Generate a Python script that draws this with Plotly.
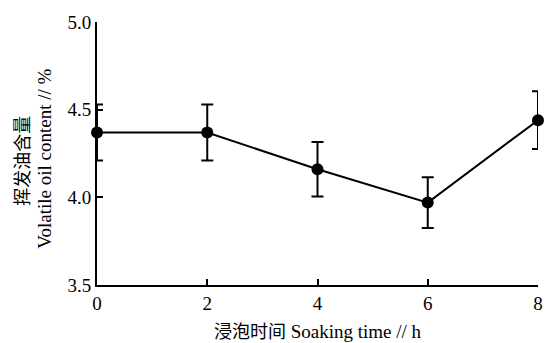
import plotly.graph_objects as go

soak_time = [0, 2, 4, 6, 8]
oil_content = [4.37, 4.37, 4.16, 3.97, 4.44]
oil_sd = [0.16, 0.16, 0.155, 0.145, 0.165]
x_ticks = [0, 2, 4, 6, 8]
y_ticks = [3.5, 4.0, 4.5, 5.0]

SERIF = "Liberation Serif, Noto Sans CJK SC, serif"
CJK = "Noto Sans CJK SC"

fig = go.Figure()
fig.add_trace(go.Scatter(
    x=soak_time, y=oil_content,
    mode="lines+markers",
    line=dict(color="black", width=2),
    marker=dict(color="black", size=12),
    error_y=dict(type="data", array=oil_sd, color="black", thickness=2, width=6),
    cliponaxis=False,
    showlegend=False,
))

W, H = 555, 343
L, R, T, B = 97, 15, 21, 58
pw, ph = W - L - R, H - T - B


def px_x(px):
    return (px - L) / pw


def px_y(py):
    return (H - B - py) / ph


fig.update_layout(
    width=W, height=H,
    margin=dict(l=L, r=R, t=T, b=B),
    paper_bgcolor="white", plot_bgcolor="white",
    font=dict(family=SERIF, size=17, color="black"),
    xaxis=dict(range=[0, 8], tickvals=x_ticks, ticks="inside", ticklen=6, tickwidth=1.5,
               tickcolor="black", showline=True, linecolor="black", linewidth=2,
               showgrid=False, zeroline=False, tickfont=dict(size=19)),
    yaxis=dict(range=[3.5, 5.0], tickvals=y_ticks, tickformat=".1f", ticks="inside",
               ticklen=6, tickwidth=1.5, tickcolor="black", showline=True,
               linecolor="black", linewidth=2, showgrid=False, zeroline=False,
               tickfont=dict(size=19)),
    annotations=[
        dict(text="<span style='font-family:Noto Sans CJK SC;font-size:18px'>浸泡时间</span> Soaking time // h",
             xref="paper", yref="paper",
             x=px_x(319), y=px_y(330),
             xanchor="center", yanchor="middle", showarrow=False,
             font=dict(family=SERIF, size=19)),
        dict(text="挥发油含量", xref="paper", yref="paper",
             x=px_x(21), y=px_y(160),
             xanchor="center", yanchor="middle", textangle=-90, showarrow=False,
             font=dict(family=CJK, size=18)),
        dict(text="Volatile oil content // %", xref="paper", yref="paper",
             x=px_x(44), y=px_y(158),
             xanchor="center", yanchor="middle", textangle=-90, showarrow=False,
             font=dict(family=SERIF, size=19)),
    ],
)

fig.write_html("out.html")
